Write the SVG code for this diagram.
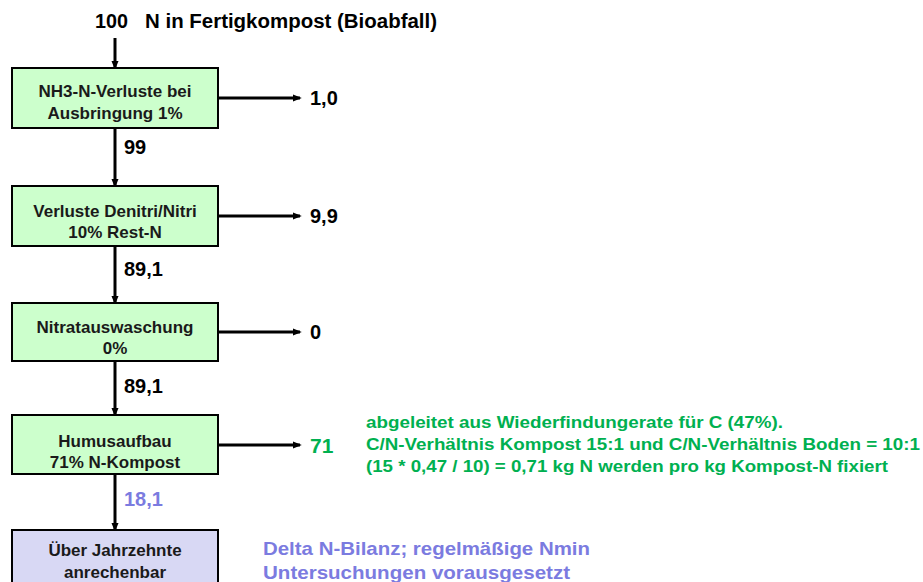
<svg xmlns="http://www.w3.org/2000/svg" width="923" height="582" viewBox="0 0 923 582">
  <style>
    .box { fill: #ccffcc; stroke: #000; stroke-width: 2; }
    .box.final { fill: #d8d8f4; }
    .bt { font-family: "Liberation Sans", Arial, sans-serif; font-size: 17px; font-weight: bold; fill: #1a1a1a; text-anchor: middle; }
    .num { font-family: "Liberation Sans", Arial, sans-serif; font-size: 20px; font-weight: bold; fill: #000; }
    .title { font-family: "Liberation Sans", Arial, sans-serif; font-size: 20px; font-weight: bold; fill: #000; }
    .green { fill: #00b050; }
    .violet { fill: #7b7be0; }
    .note { font-family: "Liberation Sans", Arial, sans-serif; font-size: 17px; font-weight: bold; }
    .link { stroke: #000; stroke-width: 3; fill: none; marker-end: url(#head); }
  </style>
  <defs>
    <marker id="head" viewBox="0 0 10 10" refX="8" refY="5" markerWidth="3" markerHeight="3" orient="auto">
      <path d="M0,1 L10,5 L0,9 z" fill="#000"/>
    </marker>
  </defs>

  <rect width="923" height="582" fill="#fff"/>

  <!-- header -->
  <text class="title" x="95" y="28" textLength="33" lengthAdjust="spacingAndGlyphs">100</text>
  <text class="title" x="145" y="28" textLength="292" lengthAdjust="spacingAndGlyphs">N in Fertigkompost (Bioabfall)</text>

  <!-- connectors -->
  <g id="connectors">
    <path class="link" d="M115,38 V68"/>
    <path class="link" d="M115,128 V186"/>
    <path class="link" d="M115,246 V303"/>
    <path class="link" d="M115,361 V415"/>
    <path class="link" d="M115,474 V530"/>
    <path class="link" d="M218,98 H300"/>
    <path class="link" d="M218,216 H300"/>
    <path class="link" d="M218,332 H300"/>
    <path class="link" d="M218,445 H300"/>
  </g>

  <!-- flow values -->
  <g id="values">
    <text class="num" x="124" y="154">99</text>
    <text class="num" x="124" y="276">89,1</text>
    <text class="num" x="124" y="393">89,1</text>
    <text class="num violet" x="124" y="506">18,1</text>
    <text class="num" x="310" y="105">1,0</text>
    <text class="num" x="310" y="223">9,9</text>
    <text class="num" x="310" y="339">0</text>
    <text class="num green" x="310" y="453" style="font-size:21px">71</text>
  </g>

  <g id="n1">
    <rect class="box" x="12" y="68" width="206" height="60"/>
    <text class="bt" x="115" y="97">NH3-N-Verluste bei</text>
    <text class="bt" x="115" y="119">Ausbringung 1%</text>
  </g>
  <g id="n2">
    <rect class="box" x="12" y="186" width="206" height="60"/>
    <text class="bt" x="115" y="217">Verluste Denitri/Nitri</text>
    <text class="bt" x="115" y="238">10% Rest-N</text>
  </g>
  <g id="n3">
    <rect class="box" x="12" y="303" width="206" height="58"/>
    <text class="bt" x="115" y="333">Nitratauswaschung</text>
    <text class="bt" x="115" y="354">0%</text>
  </g>
  <g id="n4">
    <rect class="box" x="12" y="415" width="206" height="59"/>
    <text class="bt" x="115" y="447">Humusaufbau</text>
    <text class="bt" x="115" y="468">71% N-Kompost</text>
  </g>
  <g id="n5">
    <rect class="box final" x="12" y="530" width="206" height="60"/>
    <text class="bt" x="115" y="556">Über Jahrzehnte</text>
    <text class="bt" x="115" y="578">anrechenbar</text>
  </g>

  <!-- explanatory notes -->
  <g id="note-humus" class="note green">
    <text x="366" y="428" textLength="417" lengthAdjust="spacingAndGlyphs">abgeleitet aus Wiederfindungerate für C (47%).</text>
    <text x="366" y="450" textLength="554" lengthAdjust="spacingAndGlyphs">C/N-Verhältnis Kompost 15:1 und C/N-Verhältnis Boden = 10:1</text>
    <text x="366" y="472" textLength="522" lengthAdjust="spacingAndGlyphs">(15 * 0,47 / 10) = 0,71 kg N werden pro kg Kompost-N fixiert</text>
  </g>
  <g id="note-balance" class="note violet" style="font-size:19px">
    <text x="263" y="555" textLength="327" lengthAdjust="spacingAndGlyphs">Delta N-Bilanz; regelmäßige Nmin</text>
    <text x="263" y="579" textLength="307" lengthAdjust="spacingAndGlyphs">Untersuchungen vorausgesetzt</text>
  </g>
</svg>
